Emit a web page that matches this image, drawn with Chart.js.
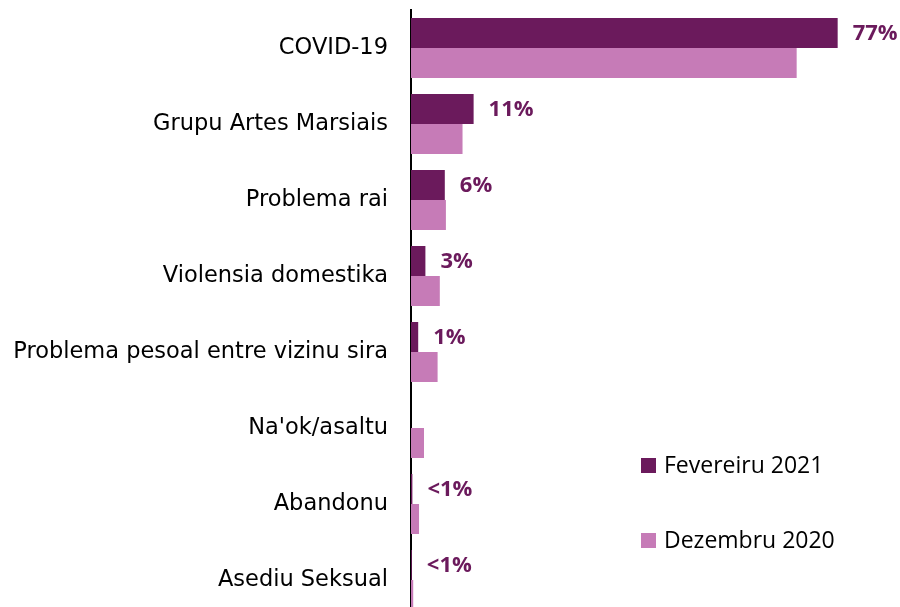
<!DOCTYPE html>
<html>
<head>
<meta charset="utf-8">
<script src="https://cdn.jsdelivr.net/npm/chart.js@4"></script>
<style>
	html, body { margin: 0; padding: 0; background: #fff; overflow: hidden; }
	#wrap { width: 900px; height: 625px; }
</style>
</head>
<body>
<div id="wrap"><canvas id="chart" width="900" height="625"></canvas></div>
<script>
const categories = ['COVID-19', 'Grupu Artes Marsiais', 'Problema rai', 'Violensia domestika', 'Problema pesoal entre vizinu sira', 'Na\'ok/asaltu', 'Abandonu', 'Asediu Seksual'];
const fevereiru2021 = [77, 11.3, 6.1, 2.6, 1.3, 0, 0.25, 0.15];
const dezembru2020 = [69.6, 9.3, 6.3, 5.2, 4.8, 2.35, 1.45, 0.4];
const fevLabels = ['77%', '11%', '6%', '3%', '1%', '', '<1%', '<1%'];

const darkPurple = '#6b1a5c';
const lightPurple = '#c67bb7';

// value labels to the right of the Fevereiru bars
const valueLabels = {
	id: 'valueLabels',
	afterDatasetsDraw (chart) {
		const ctx = chart.ctx;
		const meta = chart.getDatasetMeta(0);
		ctx.save();
		ctx.font = 'bold 22px "Open Sans"';
		ctx.fillStyle = darkPurple;
		ctx.textBaseline = 'middle';
		meta.data.forEach((bar, i) => {
			if (!fevLabels[i]) return;
			ctx.fillText(fevLabels[i], bar.x + 15, bar.y + 1);
		});
		ctx.restore();
	}
};

// legend in the lower right
const sideLegend = {
	id: 'sideLegend',
	afterDraw (chart) {
		const ctx = chart.ctx;
		const ys = [465, 540];
		ctx.save();
		ctx.font = '23px "Open Sans"';
		ctx.textBaseline = 'middle';
		chart.data.datasets.forEach((ds, i) => {
			ctx.fillStyle = ds.backgroundColor;
			ctx.fillRect(641, ys[i] - 7, 15, 15);
			ctx.fillStyle = '#000';
			ctx.fillText(ds.label, 664, ys[i] + 1);
		});
		ctx.restore();
	}
};

new Chart(document.getElementById('chart'), {
	type: 'bar',
	data: {
		labels: categories,
		datasets: [{
			label: 'Fevereiru 2021',
			data: fevereiru2021,
			backgroundColor: darkPurple,
			categoryPercentage: 0.79,
			barPercentage: 1
		}, {
			label: 'Dezembru 2020',
			data: dezembru2020,
			backgroundColor: lightPurple,
			categoryPercentage: 0.79,
			barPercentage: 1
		}]
	},
	options: {
		indexAxis: 'y',
		responsive: false,
		animation: false,
		layout: { padding: { top: 10, bottom: 7, right: 18, left: 0 } },
		plugins: {
			legend: { display: false },
			tooltip: { enabled: false }
		},
		scales: {
			x: {
				display: false,
				min: 0,
				max: 85
			},
			y: {
				grid: { display: false, drawTicks: false },
				border: { display: true, color: '#000', width: 2 },
				afterFit (scale) {
					scale.width = 411;
					scale.paddingTop = 0;
					scale.paddingBottom = 0;
				},
				ticks: {
					color: '#000',
					padding: 23,
					font: { family: '"DejaVu Sans"', size: 22.5 }
				}
			}
		}
	},
	plugins: [valueLabels, sideLegend]
});
</script>
</body>
</html>
